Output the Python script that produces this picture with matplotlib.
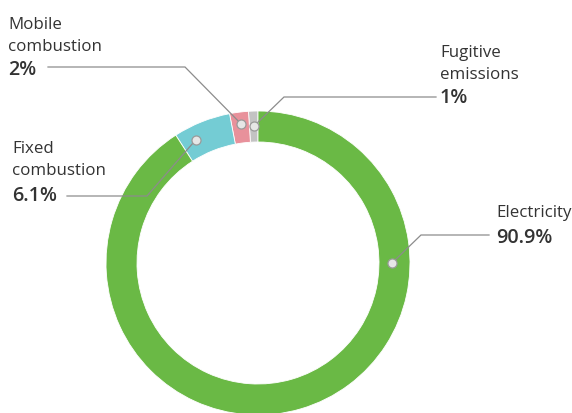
import matplotlib
matplotlib.use("Agg")
import matplotlib.pyplot as plt
import numpy as np

# ---- data ----
categories = ["Fugitive\nemissions", "Mobile\ncombustion", "Fixed\ncombustion", "Electricity"]
values = [1.0, 2.0, 6.1, 90.9]
pct_labels = ["1%", "2%", "6.1%", "90.9%"]
colors = ["#c3c3c3", "#e8919b", "#74ccd4", "#6ab945"]

# ---- layout (pixels, y down) ----
W, H = 572, 414
CX, CY = 258, 264
R_OUT, R_IN = 152, 121

plt.rcParams['font.family'] = ['Open Sans', 'DejaVu Sans']
fig = plt.figure(figsize=(W / 100, H / 100), dpi=100)
ax = fig.add_axes([0, 0, 1, 1])

def Y(y):
    return H - y

ax.pie(values, colors=colors, startangle=90, counterclock=True,
       radius=R_OUT, center=(CX, Y(CY)),
       wedgeprops=dict(width=R_OUT - R_IN, edgecolor='white', linewidth=0.6))
ax.set_xlim(0, W)
ax.set_ylim(0, H)
ax.set_aspect('equal')
ax.axis('off')

# dot anchor angles (deg) and radii
dot_angles = [91.7, 96.9, 116.8, 0.0]
dot_radii = [137, 140, 138, 134]

# leader elbows and ends (pixels)
elbows = [(284, 98), (185, 68), (147, 197), (421, 236)]
ends = [(436, 98), (48, 68), (67, 197), (489, 236)]
# text positions: (x, baseline of first name line, baseline of percent)
text_pos = [(440, 57, 103), (8, 29, 75), (12, 153, 201), (496, 217, 243)]

line_col = "#8c8c8c"
txt_col = "#333333"
for i in range(len(values)):
    a = np.deg2rad(dot_angles[i])
    dx = CX + dot_radii[i] * np.cos(a)
    dy = CY - dot_radii[i] * np.sin(a)
    ex, ey = elbows[i]
    fx, fy = ends[i]
    ax.plot([dx, ex, fx], [Y(dy), Y(ey), Y(fy)], color=line_col, lw=0.9,
            solid_joinstyle='miter', zorder=3)
    ax.plot([dx], [Y(dy)], marker='o', ms=6.5, mfc='#e6e6e6', mec='#9a9a9a',
            mew=0.9, zorder=4)
    tx, ty1, ty2 = text_pos[i]
    names = categories[i].split("\n")
    for k, nm in enumerate(names):
        ax.text(tx, Y(ty1 + 22 * k), nm, fontsize=12.2, color=txt_col,
                ha='left', va='baseline')
    ax.text(tx, Y(ty2), pct_labels[i], fontsize=14.2, fontweight='semibold',
            color=txt_col, ha='left', va='baseline')

fig.savefig("out.png", dpi=100)
